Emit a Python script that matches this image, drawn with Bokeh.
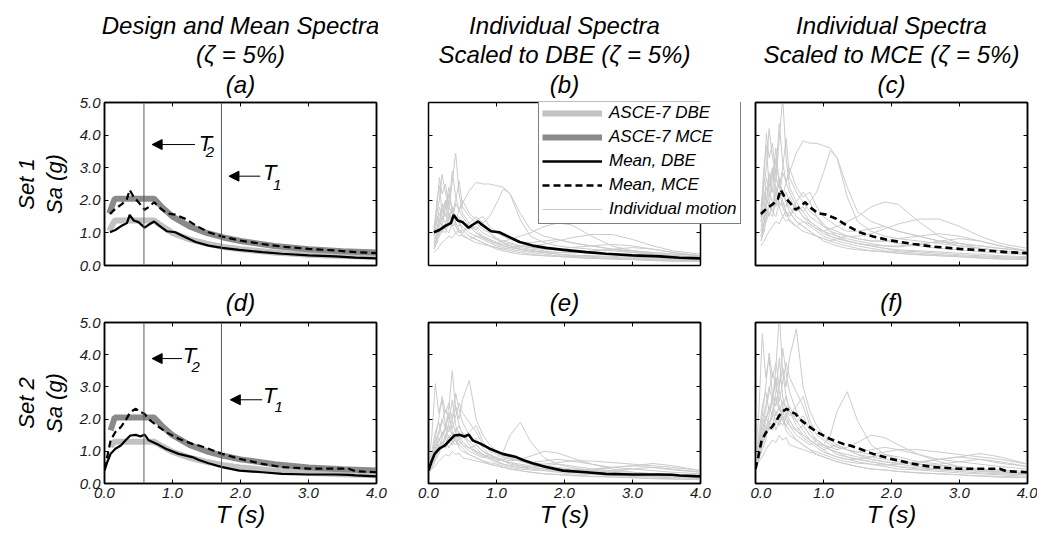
import math
from bokeh.plotting import figure
from bokeh.models import (LinearAxis, FixedTicker, Span, Arrow, NormalHead, Label,
                          Legend, LegendItem, Range1d, Title)
from bokeh.layouts import column, row
from bokeh.embed import file_html
from bokeh.resources import INLINE

# ---------------- data ----------------
X_TICKS = [0, 1, 2, 3, 4]
X_TICK_LABELS = ["0.0", "1.0", "2.0", "3.0", "4.0"]
Y_TICKS = [0, 1, 2, 3, 4, 5]
Y_TICK_LABELS = ["0.0", "1.0", "2.0", "3.0", "4.0", "5.0"]
X_RANGE = (0, 4)
Y_RANGE = (0, 5)

# ASCE-7 design spectra
DESIGN1_T = [0.07, 0.15, 0.73, 0.85, 1.0, 1.25, 1.5, 1.75, 2.0, 2.5, 3.0, 3.5, 4.0]
DESIGN1_DBE = [1.07, 1.38, 1.38, 1.2, 1.0, 0.8, 0.67, 0.57, 0.5, 0.4, 0.33, 0.29, 0.27]
DESIGN1_MCE = [1.6, 2.05, 2.05, 1.78, 1.5, 1.2, 1.0, 0.86, 0.75, 0.6, 0.5, 0.44, 0.4]
DESIGN2_T = [0.09, 0.15, 0.73, 0.85, 1.0, 1.25, 1.5, 1.75, 2.0, 2.5, 3.0, 3.5, 4.0]
DESIGN2_DBE = [1.15, 1.3, 1.3, 1.15, 0.98, 0.8, 0.67, 0.57, 0.5, 0.4, 0.33, 0.29, 0.26]
DESIGN2_MCE = [1.65, 2.05, 2.05, 1.78, 1.5, 1.2, 1.0, 0.86, 0.75, 0.6, 0.5, 0.44, 0.4]

# Mean spectra
MEAN1_T = [0.08, 0.16, 0.26, 0.33, 0.37, 0.43, 0.5, 0.59, 0.65, 0.73, 0.8, 0.92, 1.04,
           1.19, 1.34, 1.53, 1.73, 1.98, 2.32, 2.61, 3.0, 3.4, 3.69, 4.0]
MEAN1_DBE = [1.02, 1.09, 1.23, 1.3, 1.55, 1.38, 1.33, 1.16, 1.25, 1.35, 1.23, 1.05, 1.02,
             0.87, 0.72, 0.61, 0.54, 0.48, 0.41, 0.36, 0.31, 0.28, 0.24, 0.22]
MEAN1_MCE = [1.58, 1.74, 1.89, 2.04, 2.32, 2.1, 1.94, 1.71, 1.79, 1.94, 1.79, 1.6, 1.56,
             1.43, 1.23, 1.02, 0.89, 0.77, 0.66, 0.58, 0.51, 0.46, 0.41, 0.38]
MEAN2_T = [0.0, 0.04, 0.09, 0.16, 0.24, 0.31, 0.38, 0.46, 0.53, 0.59, 0.65, 0.77, 0.9,
           1.09, 1.29, 1.39, 1.53, 1.73, 1.98, 2.32, 2.61, 3.0, 3.4, 3.59, 3.69, 4.0]
MEAN2_DBE = [0.4, 0.66, 0.92, 1.08, 1.18, 1.34, 1.49, 1.51, 1.46, 1.52, 1.34, 1.23, 1.08,
             0.92, 0.82, 0.73, 0.63, 0.51, 0.4, 0.35, 0.3, 0.28, 0.28, 0.27, 0.25, 0.22]
MEAN2_MCE = [0.45, 0.82, 1.34, 1.6, 1.75, 1.96, 2.22, 2.32, 2.22, 2.16, 2.0, 1.8, 1.6,
             1.39, 1.23, 1.18, 1.08, 0.92, 0.77, 0.61, 0.51, 0.46, 0.46, 0.46, 0.38, 0.35]

# Individual motions (scaled to DBE); MCE-scaled sets are these times MCE/DBE
MCE_SCALE = 1.5
SET1_T = [0.08, 0.1, 0.13, 0.16, 0.2, 0.25, 0.3, 0.35, 0.4, 0.45, 0.5, 0.6, 0.7, 0.8, 0.9,
          1.0, 1.1, 1.2, 1.35, 1.5, 1.7, 1.9, 2.1, 2.4, 2.7, 3.0, 3.3, 3.6, 4.0]
SET1_MOTIONS = [
    [0.9, 1.0, 1.2, 1.6, 1.4, 2.0, 1.7, 2.6, 3.45, 2.2, 1.6, 1.3, 1.1, 0.9, 0.8, 0.7, 0.65, 0.6, 0.5, 0.45, 0.4, 0.35, 0.3, 0.28, 0.25, 0.22, 0.2, 0.18, 0.16],
    [0.6, 0.7, 0.9, 1.1, 1.0, 1.3, 1.2, 1.5, 1.4, 1.7, 1.9, 2.3, 2.55, 2.5, 2.5, 2.45, 2.4, 2.2, 1.6, 1.1, 0.9, 0.8, 0.7, 0.6, 0.5, 0.45, 0.4, 0.35, 0.3],
    [0.7, 0.8, 0.9, 1.0, 1.2, 1.1, 1.0, 1.3, 1.2, 1.1, 1.0, 1.2, 1.1, 1.3, 1.5, 1.9, 2.35, 2.2, 1.4, 0.9, 0.7, 0.6, 0.55, 0.5, 0.45, 0.4, 0.35, 0.3, 0.25],
    [1.0, 1.5, 2.1, 2.45, 1.6, 1.9, 1.4, 1.7, 1.5, 1.3, 1.2, 1.0, 0.9, 0.8, 0.7, 0.6, 0.55, 0.5, 0.45, 0.4, 0.35, 0.3, 0.28, 0.25, 0.22, 0.2, 0.18, 0.16, 0.14],
    [0.5, 0.6, 0.8, 0.9, 1.1, 1.0, 1.3, 1.2, 1.0, 1.1, 0.9, 0.8, 0.9, 0.85, 0.75, 0.7, 0.75, 0.8, 0.9, 1.0, 1.2, 1.3, 1.25, 0.9, 0.6, 0.45, 0.35, 0.3, 0.25],
    [0.6, 0.7, 0.9, 1.2, 1.4, 1.6, 1.3, 1.5, 1.2, 1.0, 1.1, 0.9, 0.8, 0.7, 0.6, 0.55, 0.5, 0.55, 0.6, 0.6, 0.65, 0.75, 0.85, 0.95, 0.95, 0.8, 0.6, 0.45, 0.35],
    [1.1, 1.3, 1.7, 2.0, 2.8, 2.2, 1.9, 2.9, 2.1, 1.7, 1.5, 1.2, 1.0, 0.9, 0.8, 0.7, 0.6, 0.55, 0.5, 0.45, 0.4, 0.35, 0.32, 0.3, 0.28, 0.25, 0.23, 0.2, 0.18],
    [0.8, 0.9, 1.0, 1.4, 1.2, 1.8, 2.4, 1.6, 2.0, 2.6, 1.8, 1.5, 1.3, 1.1, 1.0, 0.85, 0.7, 0.65, 0.6, 0.55, 0.5, 0.5, 0.45, 0.4, 0.35, 0.32, 0.28, 0.25, 0.22],
    [0.4, 0.45, 0.5, 0.6, 0.7, 0.8, 0.9, 0.85, 1.0, 0.9, 0.95, 0.8, 0.7, 0.65, 0.6, 0.55, 0.5, 0.45, 0.4, 0.35, 0.3, 0.28, 0.25, 0.22, 0.2, 0.18, 0.15, 0.13, 0.12],
    [0.9, 1.1, 1.4, 1.8, 1.5, 1.3, 1.6, 1.4, 1.9, 1.7, 2.0, 1.6, 1.4, 1.5, 1.2, 1.0, 0.9, 0.8, 0.7, 0.7, 0.75, 0.8, 0.7, 0.6, 0.5, 0.4, 0.35, 0.3, 0.25],
    [1.2, 1.4, 1.9, 2.7, 2.2, 2.5, 1.8, 1.6, 1.4, 1.5, 1.3, 1.2, 1.0, 0.85, 0.75, 0.65, 0.6, 0.55, 0.5, 0.45, 0.42, 0.4, 0.38, 0.42, 0.5, 0.55, 0.5, 0.4, 0.3],
    [0.5, 0.6, 0.7, 1.0, 1.3, 1.1, 1.5, 1.8, 1.3, 1.2, 1.4, 1.1, 1.2, 1.0, 0.9, 0.8, 0.75, 0.7, 0.6, 0.55, 0.5, 0.5, 0.55, 0.6, 0.65, 0.6, 0.5, 0.4, 0.3],
    [0.7, 0.8, 1.1, 1.3, 1.9, 1.5, 2.2, 1.7, 1.5, 1.3, 1.1, 0.9, 0.8, 0.7, 0.6, 0.5, 0.45, 0.4, 0.35, 0.32, 0.3, 0.28, 0.25, 0.22, 0.2, 0.18, 0.16, 0.14, 0.12],
    [1.0, 1.2, 1.5, 1.3, 1.7, 2.0, 1.6, 1.2, 1.3, 1.1, 1.0, 1.3, 1.5, 1.3, 1.0, 0.8, 0.7, 0.6, 0.55, 0.5, 0.45, 0.4, 0.4, 0.45, 0.48, 0.45, 0.4, 0.35, 0.3],
]
SET2_T = [0.0, 0.05, 0.1, 0.15, 0.2, 0.25, 0.3, 0.35, 0.4, 0.45, 0.5, 0.6, 0.7, 0.8, 0.9,
          1.0, 1.1, 1.2, 1.35, 1.5, 1.7, 1.9, 2.1, 2.4, 2.7, 3.0, 3.3, 3.6, 4.0]
SET2_MOTIONS = [
    [0.4, 0.8, 1.3, 1.6, 2.0, 1.7, 2.4, 3.5, 2.3, 1.8, 1.5, 1.2, 1.0, 0.9, 0.8, 0.7, 0.6, 0.55, 0.5, 0.45, 0.4, 0.35, 0.3, 0.28, 0.25, 0.22, 0.2, 0.18, 0.15],
    [0.5, 1.5, 3.1, 2.2, 2.6, 1.8, 2.1, 1.6, 1.4, 1.2, 1.1, 0.9, 0.8, 0.7, 0.6, 0.55, 0.5, 0.45, 0.4, 0.35, 0.3, 0.28, 0.25, 0.22, 0.2, 0.18, 0.16, 0.15, 0.13],
    [0.5, 0.7, 1.0, 1.3, 1.5, 1.8, 1.6, 2.0, 2.4, 2.0, 2.6, 3.2, 2.0, 1.5, 1.2, 1.0, 0.9, 0.8, 0.7, 0.6, 0.5, 0.45, 0.4, 0.35, 0.3, 0.28, 0.25, 0.22, 0.2],
    [0.4, 0.6, 0.8, 1.0, 1.2, 1.1, 1.3, 1.2, 1.5, 1.3, 1.2, 1.0, 0.9, 0.8, 0.9, 0.8, 1.0, 1.5, 1.9, 1.3, 0.8, 0.6, 0.5, 0.4, 0.35, 0.3, 0.28, 0.25, 0.2],
    [0.3, 0.5, 0.7, 0.9, 1.2, 1.4, 1.1, 1.3, 1.6, 1.4, 1.2, 1.1, 1.0, 0.9, 0.8, 0.8, 0.75, 0.7, 0.75, 0.85, 1.0, 0.95, 0.8, 0.6, 0.45, 0.35, 0.3, 0.25, 0.2],
    [0.4, 0.6, 0.9, 1.2, 1.1, 1.5, 1.3, 1.2, 1.4, 1.1, 1.0, 0.9, 0.8, 0.7, 0.65, 0.6, 0.55, 0.5, 0.45, 0.42, 0.4, 0.38, 0.4, 0.45, 0.5, 0.55, 0.62, 0.55, 0.4],
    [0.5, 0.9, 1.4, 2.0, 2.7, 2.2, 2.5, 2.0, 2.8, 2.3, 1.9, 1.5, 1.2, 1.0, 0.9, 0.8, 0.7, 0.6, 0.55, 0.5, 0.45, 0.4, 0.35, 0.3, 0.28, 0.25, 0.22, 0.2, 0.18],
    [0.35, 0.45, 0.55, 0.7, 0.8, 0.9, 0.85, 1.0, 0.9, 0.95, 0.8, 0.75, 0.7, 0.65, 0.6, 0.55, 0.5, 0.45, 0.4, 0.35, 0.3, 0.28, 0.25, 0.22, 0.2, 0.18, 0.15, 0.13, 0.12],
    [0.5, 0.8, 1.2, 1.5, 1.9, 2.3, 2.0, 1.7, 2.1, 2.5, 2.2, 1.9, 1.6, 1.2, 1.1, 0.95, 0.85, 0.75, 0.7, 0.65, 0.7, 0.75, 0.7, 0.6, 0.5, 0.45, 0.4, 0.35, 0.3],
    [0.4, 0.7, 1.0, 1.3, 1.6, 1.4, 1.8, 1.5, 1.7, 1.6, 1.4, 1.6, 1.8, 1.3, 1.0, 0.9, 0.8, 0.75, 0.7, 0.65, 0.6, 0.65, 0.7, 0.7, 0.65, 0.6, 0.55, 0.5, 0.4],
    [0.6, 1.0, 1.6, 1.9, 1.5, 1.7, 1.4, 1.6, 1.3, 1.2, 1.3, 1.1, 0.95, 0.85, 0.75, 0.65, 0.6, 0.55, 0.5, 0.5, 0.55, 0.6, 0.55, 0.45, 0.4, 0.45, 0.5, 0.45, 0.35],
    [0.3, 0.5, 0.8, 1.1, 1.4, 1.7, 2.2, 1.9, 1.6, 1.8, 1.5, 1.3, 1.4, 1.1, 0.9, 0.8, 0.7, 0.65, 0.6, 0.55, 0.5, 0.45, 0.42, 0.4, 0.38, 0.35, 0.3, 0.28, 0.25],
    [0.5, 0.8, 1.1, 1.4, 1.2, 1.5, 1.9, 2.6, 1.8, 1.5, 1.3, 1.1, 1.2, 1.0, 0.85, 0.75, 0.7, 0.65, 0.55, 0.5, 0.45, 0.4, 0.35, 0.32, 0.3, 0.28, 0.26, 0.24, 0.22],
    [0.4, 0.6, 0.9, 1.1, 1.3, 1.2, 1.5, 1.3, 1.2, 1.4, 1.6, 1.3, 1.1, 0.9, 0.8, 0.7, 0.75, 0.8, 0.7, 0.6, 0.55, 0.5, 0.45, 0.42, 0.5, 0.55, 0.5, 0.42, 0.35],
]

# Period markers (T2, T1) and their annotation positions
PERIOD_LINES = [0.58, 1.72]
TOP_ARROWS = [  # (x_tail, x_head, y, label_x, label_y, sub, sub_x, sub_y)
    (1.33, 0.70, 3.71, 1.485, 3.75, "2", 1.55, 3.47),
    (2.29, 1.83, 2.74, 2.43, 2.85, "1", 2.54, 2.48),
]
BOTTOM_ARROWS = [
    (1.14, 0.70, 3.88, 1.25, 3.97, "2", 1.34, 3.63),
    (2.32, 1.85, 2.60, 2.43, 2.73, "1", 2.56, 2.37),
]

TITLES = {
    "a": ["Design and Mean Spectra", "(\u03b6 = 5%)", "(a)"],
    "b": ["Individual Spectra", "Scaled to DBE (\u03b6 = 5%)", "(b)"],
    "c": ["Individual Spectra", "Scaled to MCE (\u03b6 = 5%)", "(c)"],
    "d": ["(d)"], "e": ["(e)"], "f": ["(f)"],
}
ROW_LABELS = [("Set 1", "Sa (g)"), ("Set 2", "Sa (g)")]

# ---------------- style ----------------
FONT = "Liberation Sans"
DBE_COLOR = "#c2c2c2"
MCE_COLOR = "#8a8a8a"
IND_COLOR = "#cbcbcb"
FRAME_W = 272
NAN = float("nan")


def style_axis(ax, ticks, labels, show):
    ax.ticker = FixedTicker(ticks=ticks)
    ax.major_tick_in = 4
    ax.major_tick_out = 0
    ax.minor_tick_line_color = None
    ax.major_tick_line_color = "black"
    ax.axis_line_color = "black"
    ax.axis_line_width = 1.5
    ax.major_label_text_font = FONT
    ax.major_label_text_font_style = "italic"
    if show:
        ax.major_label_overrides = {t: l for t, l in zip(ticks, labels)}
        ax.major_label_text_color = "#1a1a1a"
        ax.major_label_text_font_size = "15px"
        ax.major_label_standoff = 4
    else:
        ax.major_label_text_color = None
        ax.major_label_text_font_size = "0px"
        ax.major_label_standoff = 0


def set_axis_label(ax, text, size, standoff):
    ax.axis_label = text
    ax.axis_label_text_font = FONT
    ax.axis_label_text_font_style = "italic"
    ax.axis_label_text_font_size = size
    ax.axis_label_text_color = "black"
    ax.axis_label_standoff = standoff


def make_panel(left, right, top, bottom, frame_h, show_x, show_y, ext=0):
    # ext > 0 widens the frame on both sides (room for the legend) with the same
    # px per second; the box is then closed at T = 0 and 4 s by bounded axes and
    # fixed-location vertical axes
    px_per_unit = FRAME_W / (X_RANGE[1] - X_RANGE[0])
    x_start = X_RANGE[0] - ext / px_per_unit
    x_end = X_RANGE[1] + ext / px_per_unit
    p = figure(frame_width=FRAME_W + 2 * ext, frame_height=frame_h,
               x_range=Range1d(x_start, x_end), y_range=Range1d(*Y_RANGE),
               output_backend="svg", toolbar_location=None, tools="",
               min_border_left=left, min_border_right=right,
               min_border_top=top, min_border_bottom=bottom,
               outline_line_color=None if ext else "black", outline_line_width=1.5,
               background_fill_color="white", border_fill_color="white")
    p.grid.visible = False
    bottom_ax = p.below[0]
    left_ax = p.left[0]
    style_axis(bottom_ax, X_TICKS, X_TICK_LABELS, show_x)
    style_axis(left_ax, Y_TICKS, Y_TICK_LABELS, show_y)
    if show_x:
        set_axis_label(bottom_ax, "T (s)", "24px", 0)
    top_ax = LinearAxis()
    style_axis(top_ax, X_TICKS, X_TICK_LABELS, False)
    p.add_layout(top_ax, "above")
    if ext:
        bottom_ax.bounds = X_RANGE
        top_ax.bounds = X_RANGE
        left_ax.fixed_location = X_RANGE[0]
        right_ax = LinearAxis(fixed_location=X_RANGE[1])
    else:
        right_ax = LinearAxis()
    style_axis(right_ax, Y_TICKS, Y_TICK_LABELS, False)
    p.add_layout(right_ax, "right")
    return p, top_ax, left_ax


def add_title(p, text, side, size, standoff):
    p.add_layout(Title(text=text, align="center", text_font=FONT,
                       text_font_style="italic", text_font_size=size,
                       text_color="black", standoff=standoff), side)


def add_text(p, x, y, text, size):
    p.add_layout(Label(x=x, y=y, text=text, text_font=FONT, text_font_style="italic",
                       text_font_size=size, text_color="black",
                       text_align="center", text_baseline="middle"))


def add_markers(p, arrows):
    for x in PERIOD_LINES:
        p.add_layout(Span(location=x, dimension="height", line_color="#5a5a5a", line_width=1))
    for (xt, xh, y, lx, ly, sub, sx, sy) in arrows:
        p.add_layout(Arrow(end=NormalHead(size=10, fill_color="black", line_color="black"),
                           x_start=xt, y_start=y, x_end=xh, y_end=y,
                           line_color="black", line_width=1))
        add_text(p, lx, ly, "T", "22px")
        add_text(p, sx, sy, sub, "15px")


# ---------------- figures ----------------
TOP_H, BOT_H = 163, 161
pa, ta, la = make_panel(104, 2, 102, 10, TOP_H, False, True)
pb, tb, lb = make_panel(0, 0, 102, 10, TOP_H, False, False, ext=50)
pc, tc, lc = make_panel(5, 10, 102, 10, TOP_H, False, False)
pd, td, ld = make_panel(104, 26, 47, 50, BOT_H, True, True)
pe, te, le = make_panel(26, 50, 47, 50, BOT_H, True, False)
pf, tf, lf = make_panel(5, 10, 47, 50, BOT_H, True, False)

# titles: the panel letter is the top axis label, the other lines stack outward
for p, top_ax, key, gap in [(pa, ta, "a", 5), (pb, tb, "b", 5), (pc, tc, "c", 5),
                            (pd, td, "d", 7), (pe, te, "e", 7), (pf, tf, "f", 7)]:
    lines = list(reversed(TITLES[key]))
    set_axis_label(top_ax, lines[0], "24px", gap)
    for line in lines[1:]:
        add_title(p, line, "above", "24px", 0)

for p, left_ax, (s, sa) in [(pa, la, ROW_LABELS[0]), (pd, ld, ROW_LABELS[1])]:
    set_axis_label(left_ax, sa, "22px", 10)
    add_title(p, s, "left", "22px", 0)

# Panel (a) / (d): design + mean spectra
for p, dt, ddbe, dmce, mt, mdbe, mmce in [
        (pa, DESIGN1_T, DESIGN1_DBE, DESIGN1_MCE, MEAN1_T, MEAN1_DBE, MEAN1_MCE),
        (pd, DESIGN2_T, DESIGN2_DBE, DESIGN2_MCE, MEAN2_T, MEAN2_DBE, MEAN2_MCE)]:
    p.line(dt, ddbe, line_color=DBE_COLOR, line_width=6)
    p.line(dt, dmce, line_color=MCE_COLOR, line_width=6)
    p.line(mt, mdbe, line_color="black", line_width=2.2)
    p.line(mt, mmce, line_color="black", line_width=2.2, line_dash="7 4")

add_markers(pa, TOP_ARROWS)
add_markers(pd, BOTTOM_ARROWS)

# Panels (b), (c), (e), (f): individual motions
ind_renderers = {}
for p, t, motions, scale, mt, mean, dash in [
        (pb, SET1_T, SET1_MOTIONS, 1.0, MEAN1_T, MEAN1_DBE, "solid"),
        (pc, SET1_T, SET1_MOTIONS, MCE_SCALE, MEAN1_T, MEAN1_MCE, "7 4"),
        (pe, SET2_T, SET2_MOTIONS, 1.0, MEAN2_T, MEAN2_DBE, "solid"),
        (pf, SET2_T, SET2_MOTIONS, MCE_SCALE, MEAN2_T, MEAN2_MCE, "7 4")]:
    xs = [t for _ in motions]
    ys = [[v * scale for v in m] for m in motions]
    r_ind = p.multi_line(xs, ys, line_color=IND_COLOR, line_width=1)
    r_mean = p.line(mt, mean, line_color="black", line_width=2.6, line_dash=dash)
    ind_renderers[id(p)] = (r_ind, r_mean)

# Legend (in panel b); proxy renderers hold a single NaN point so nothing is drawn
r_ind_b, r_mean_b = ind_renderers[id(pb)]
r_leg_dbe = pb.line(x=[NAN], y=[NAN], line_color=DBE_COLOR, line_width=6)
r_leg_mce = pb.line(x=[NAN], y=[NAN], line_color=MCE_COLOR, line_width=6)
r_leg_mean_mce = pb.line(x=[NAN], y=[NAN], line_color="black", line_width=2.6, line_dash="7 4")
legend = Legend(items=[
    LegendItem(label="ASCE-7 DBE", renderers=[r_leg_dbe]),
    LegendItem(label="ASCE-7 MCE", renderers=[r_leg_mce]),
    LegendItem(label="Mean, DBE", renderers=[r_mean_b]),
    LegendItem(label="Mean, MCE", renderers=[r_leg_mean_mce]),
    LegendItem(label="Individual motion", renderers=[r_ind_b]),
], location=(160, 41))
legend.label_text_font = FONT
legend.label_text_font_style = "italic"
legend.label_text_font_size = "17px"
legend.label_text_color = "black"
legend.border_line_color = "black"
legend.border_line_width = 1
legend.background_fill_color = "white"
legend.background_fill_alpha = 1.0
legend.glyph_width = 60
legend.glyph_height = 22
legend.label_height = 22
legend.label_standoff = 7
legend.spacing = 2
legend.padding = 3
legend.margin = 0
pb.add_layout(legend)

layout = column(row(pa, pb, pc), row(pd, pe, pf))

with open("out.html", "w") as f:
    f.write(file_html(layout, INLINE))
